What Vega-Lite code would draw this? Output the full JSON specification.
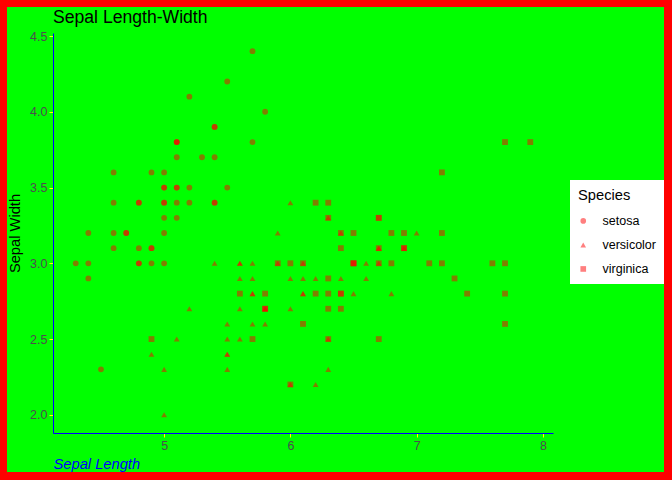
{
  "$schema": "https://vega.github.io/schema/vega-lite/v6.json",
  "width": 657,
  "height": 465,
  "autosize": {"type": "none"},
  "padding": {"left": 7, "top": 7, "right": 8, "bottom": 8},
  "background": "#FF0000",
  "config": {
    "view": {"fill": "#00FF00", "stroke": null},
    "font": "Liberation Sans"
  },
  "title": {
    "text": "Sepal Length-Width",
    "anchor": "start",
    "frame": "group",
    "dx": 46,
    "offset": 0,
    "baseline": "alphabetic",
    "dy": 34,
    "fontSize": 17.6,
    "fontWeight": "normal",
    "color": "#000000"
  },
  "data": {
    "values": [
      {"SL": 5.1, "SW": 3.5, "Species": "setosa"},
      {"SL": 4.9, "SW": 3.0, "Species": "setosa"},
      {"SL": 4.7, "SW": 3.2, "Species": "setosa"},
      {"SL": 4.6, "SW": 3.1, "Species": "setosa"},
      {"SL": 5.0, "SW": 3.6, "Species": "setosa"},
      {"SL": 5.4, "SW": 3.9, "Species": "setosa"},
      {"SL": 4.6, "SW": 3.4, "Species": "setosa"},
      {"SL": 5.0, "SW": 3.4, "Species": "setosa"},
      {"SL": 4.4, "SW": 2.9, "Species": "setosa"},
      {"SL": 4.9, "SW": 3.1, "Species": "setosa"},
      {"SL": 5.4, "SW": 3.7, "Species": "setosa"},
      {"SL": 4.8, "SW": 3.4, "Species": "setosa"},
      {"SL": 4.8, "SW": 3.0, "Species": "setosa"},
      {"SL": 4.3, "SW": 3.0, "Species": "setosa"},
      {"SL": 5.8, "SW": 4.0, "Species": "setosa"},
      {"SL": 5.7, "SW": 4.4, "Species": "setosa"},
      {"SL": 5.4, "SW": 3.9, "Species": "setosa"},
      {"SL": 5.1, "SW": 3.5, "Species": "setosa"},
      {"SL": 5.7, "SW": 3.8, "Species": "setosa"},
      {"SL": 5.1, "SW": 3.8, "Species": "setosa"},
      {"SL": 5.4, "SW": 3.4, "Species": "setosa"},
      {"SL": 5.1, "SW": 3.7, "Species": "setosa"},
      {"SL": 4.6, "SW": 3.6, "Species": "setosa"},
      {"SL": 5.1, "SW": 3.3, "Species": "setosa"},
      {"SL": 4.8, "SW": 3.4, "Species": "setosa"},
      {"SL": 5.0, "SW": 3.0, "Species": "setosa"},
      {"SL": 5.0, "SW": 3.4, "Species": "setosa"},
      {"SL": 5.2, "SW": 3.5, "Species": "setosa"},
      {"SL": 5.2, "SW": 3.4, "Species": "setosa"},
      {"SL": 4.7, "SW": 3.2, "Species": "setosa"},
      {"SL": 4.8, "SW": 3.1, "Species": "setosa"},
      {"SL": 5.4, "SW": 3.4, "Species": "setosa"},
      {"SL": 5.2, "SW": 4.1, "Species": "setosa"},
      {"SL": 5.5, "SW": 4.2, "Species": "setosa"},
      {"SL": 4.9, "SW": 3.1, "Species": "setosa"},
      {"SL": 5.0, "SW": 3.2, "Species": "setosa"},
      {"SL": 5.5, "SW": 3.5, "Species": "setosa"},
      {"SL": 4.9, "SW": 3.6, "Species": "setosa"},
      {"SL": 4.4, "SW": 3.0, "Species": "setosa"},
      {"SL": 5.1, "SW": 3.4, "Species": "setosa"},
      {"SL": 5.0, "SW": 3.5, "Species": "setosa"},
      {"SL": 4.5, "SW": 2.3, "Species": "setosa"},
      {"SL": 4.4, "SW": 3.2, "Species": "setosa"},
      {"SL": 5.0, "SW": 3.5, "Species": "setosa"},
      {"SL": 5.1, "SW": 3.8, "Species": "setosa"},
      {"SL": 4.8, "SW": 3.0, "Species": "setosa"},
      {"SL": 5.1, "SW": 3.8, "Species": "setosa"},
      {"SL": 4.6, "SW": 3.2, "Species": "setosa"},
      {"SL": 5.3, "SW": 3.7, "Species": "setosa"},
      {"SL": 5.0, "SW": 3.3, "Species": "setosa"},
      {"SL": 7.0, "SW": 3.2, "Species": "versicolor"},
      {"SL": 6.4, "SW": 3.2, "Species": "versicolor"},
      {"SL": 6.9, "SW": 3.1, "Species": "versicolor"},
      {"SL": 5.5, "SW": 2.3, "Species": "versicolor"},
      {"SL": 6.5, "SW": 2.8, "Species": "versicolor"},
      {"SL": 5.7, "SW": 2.8, "Species": "versicolor"},
      {"SL": 6.3, "SW": 3.3, "Species": "versicolor"},
      {"SL": 4.9, "SW": 2.4, "Species": "versicolor"},
      {"SL": 6.6, "SW": 2.9, "Species": "versicolor"},
      {"SL": 5.2, "SW": 2.7, "Species": "versicolor"},
      {"SL": 5.0, "SW": 2.0, "Species": "versicolor"},
      {"SL": 5.9, "SW": 3.0, "Species": "versicolor"},
      {"SL": 6.0, "SW": 2.2, "Species": "versicolor"},
      {"SL": 6.1, "SW": 2.9, "Species": "versicolor"},
      {"SL": 5.6, "SW": 2.9, "Species": "versicolor"},
      {"SL": 6.7, "SW": 3.1, "Species": "versicolor"},
      {"SL": 5.6, "SW": 3.0, "Species": "versicolor"},
      {"SL": 5.8, "SW": 2.7, "Species": "versicolor"},
      {"SL": 6.2, "SW": 2.2, "Species": "versicolor"},
      {"SL": 5.6, "SW": 2.5, "Species": "versicolor"},
      {"SL": 5.9, "SW": 3.2, "Species": "versicolor"},
      {"SL": 6.1, "SW": 2.8, "Species": "versicolor"},
      {"SL": 6.3, "SW": 2.5, "Species": "versicolor"},
      {"SL": 6.1, "SW": 2.8, "Species": "versicolor"},
      {"SL": 6.4, "SW": 2.9, "Species": "versicolor"},
      {"SL": 6.6, "SW": 3.0, "Species": "versicolor"},
      {"SL": 6.8, "SW": 2.8, "Species": "versicolor"},
      {"SL": 6.7, "SW": 3.0, "Species": "versicolor"},
      {"SL": 6.0, "SW": 2.9, "Species": "versicolor"},
      {"SL": 5.7, "SW": 2.6, "Species": "versicolor"},
      {"SL": 5.5, "SW": 2.4, "Species": "versicolor"},
      {"SL": 5.5, "SW": 2.4, "Species": "versicolor"},
      {"SL": 5.8, "SW": 2.7, "Species": "versicolor"},
      {"SL": 6.0, "SW": 2.7, "Species": "versicolor"},
      {"SL": 5.4, "SW": 3.0, "Species": "versicolor"},
      {"SL": 6.0, "SW": 3.4, "Species": "versicolor"},
      {"SL": 6.7, "SW": 3.1, "Species": "versicolor"},
      {"SL": 6.3, "SW": 2.3, "Species": "versicolor"},
      {"SL": 5.6, "SW": 3.0, "Species": "versicolor"},
      {"SL": 5.5, "SW": 2.5, "Species": "versicolor"},
      {"SL": 5.5, "SW": 2.6, "Species": "versicolor"},
      {"SL": 6.1, "SW": 3.0, "Species": "versicolor"},
      {"SL": 5.8, "SW": 2.6, "Species": "versicolor"},
      {"SL": 5.0, "SW": 2.3, "Species": "versicolor"},
      {"SL": 5.6, "SW": 2.7, "Species": "versicolor"},
      {"SL": 5.7, "SW": 3.0, "Species": "versicolor"},
      {"SL": 5.7, "SW": 2.9, "Species": "versicolor"},
      {"SL": 6.2, "SW": 2.9, "Species": "versicolor"},
      {"SL": 5.1, "SW": 2.5, "Species": "versicolor"},
      {"SL": 5.7, "SW": 2.8, "Species": "versicolor"},
      {"SL": 6.3, "SW": 3.3, "Species": "virginica"},
      {"SL": 5.8, "SW": 2.7, "Species": "virginica"},
      {"SL": 7.1, "SW": 3.0, "Species": "virginica"},
      {"SL": 6.3, "SW": 2.9, "Species": "virginica"},
      {"SL": 6.5, "SW": 3.0, "Species": "virginica"},
      {"SL": 7.6, "SW": 3.0, "Species": "virginica"},
      {"SL": 4.9, "SW": 2.5, "Species": "virginica"},
      {"SL": 7.3, "SW": 2.9, "Species": "virginica"},
      {"SL": 6.7, "SW": 2.5, "Species": "virginica"},
      {"SL": 7.2, "SW": 3.6, "Species": "virginica"},
      {"SL": 6.5, "SW": 3.2, "Species": "virginica"},
      {"SL": 6.4, "SW": 2.7, "Species": "virginica"},
      {"SL": 6.8, "SW": 3.0, "Species": "virginica"},
      {"SL": 5.7, "SW": 2.5, "Species": "virginica"},
      {"SL": 5.8, "SW": 2.8, "Species": "virginica"},
      {"SL": 6.4, "SW": 3.2, "Species": "virginica"},
      {"SL": 6.5, "SW": 3.0, "Species": "virginica"},
      {"SL": 7.7, "SW": 3.8, "Species": "virginica"},
      {"SL": 7.7, "SW": 2.6, "Species": "virginica"},
      {"SL": 6.0, "SW": 2.2, "Species": "virginica"},
      {"SL": 6.9, "SW": 3.2, "Species": "virginica"},
      {"SL": 5.6, "SW": 2.8, "Species": "virginica"},
      {"SL": 7.7, "SW": 2.8, "Species": "virginica"},
      {"SL": 6.3, "SW": 2.7, "Species": "virginica"},
      {"SL": 6.7, "SW": 3.3, "Species": "virginica"},
      {"SL": 7.2, "SW": 3.2, "Species": "virginica"},
      {"SL": 6.2, "SW": 2.8, "Species": "virginica"},
      {"SL": 6.1, "SW": 3.0, "Species": "virginica"},
      {"SL": 6.4, "SW": 2.8, "Species": "virginica"},
      {"SL": 7.2, "SW": 3.0, "Species": "virginica"},
      {"SL": 7.4, "SW": 2.8, "Species": "virginica"},
      {"SL": 7.9, "SW": 3.8, "Species": "virginica"},
      {"SL": 6.4, "SW": 2.8, "Species": "virginica"},
      {"SL": 6.3, "SW": 2.8, "Species": "virginica"},
      {"SL": 6.1, "SW": 2.6, "Species": "virginica"},
      {"SL": 7.7, "SW": 3.0, "Species": "virginica"},
      {"SL": 6.3, "SW": 3.4, "Species": "virginica"},
      {"SL": 6.4, "SW": 3.1, "Species": "virginica"},
      {"SL": 6.0, "SW": 3.0, "Species": "virginica"},
      {"SL": 6.9, "SW": 3.1, "Species": "virginica"},
      {"SL": 6.7, "SW": 3.1, "Species": "virginica"},
      {"SL": 6.9, "SW": 3.1, "Species": "virginica"},
      {"SL": 5.8, "SW": 2.7, "Species": "virginica"},
      {"SL": 6.8, "SW": 3.2, "Species": "virginica"},
      {"SL": 6.7, "SW": 3.3, "Species": "virginica"},
      {"SL": 6.7, "SW": 3.0, "Species": "virginica"},
      {"SL": 6.3, "SW": 2.5, "Species": "virginica"},
      {"SL": 6.5, "SW": 3.0, "Species": "virginica"},
      {"SL": 6.2, "SW": 3.4, "Species": "virginica"},
      {"SL": 5.9, "SW": 3.0, "Species": "virginica"}
    ]
  },
  "mark": {"type": "point", "filled": true, "color": "#FF0000", "opacity": 0.5, "size": 34},
  "encoding": {
    "x": {
      "field": "SL",
      "type": "quantitative",
      "scale": {"domain": [4.12, 8.08], "range": [46, 546], "nice": false, "zero": false},
      "axis": {
        "offset": -39,
        "values": [5, 6, 7, 8],
        "format": "d",
        "grid": false,
        "domainColor": "#0000FF",
        "domainWidth": 1,
        "tickColor": "#FFFF00",
        "tickSize": 4,
        "tickWidth": 1,
        "labelColor": "#4D4D4D",
        "labelFontSize": 12.5,
        "labelPadding": 2,
        "title": "Sepal Length",
        "titleColor": "#0000FF",
        "titleFontStyle": "italic",
        "titleFontWeight": "normal",
        "titleFontSize": 14.7,
        "titleAnchor": "start",
        "titlePadding": 5
      }
    },
    "y": {
      "field": "SW",
      "type": "quantitative",
      "scale": {"domain": [1.88, 4.52], "range": [426, 26], "nice": false, "zero": false},
      "axis": {
        "offset": -46,
        "values": [2, 2.5, 3, 3.5, 4, 4.5],
        "format": ".1f",
        "grid": false,
        "domainColor": "#0000FF",
        "domainWidth": 1,
        "tickColor": "#FFFF00",
        "tickSize": 4,
        "tickWidth": 1,
        "labelColor": "#4D4D4D",
        "labelFontSize": 12.5,
        "labelPadding": 2,
        "title": "Sepal Width",
        "titleColor": "#000000",
        "titleFontWeight": "normal",
        "titleFontSize": 14.7,
        "titlePadding": 7
      }
    },
    "shape": {
      "field": "Species",
      "type": "nominal",
      "scale": {"domain": ["setosa", "versicolor", "virginica"], "range": ["circle", "triangle-up", "square"]},
      "legend": {
        "orient": "none",
        "legendX": 563,
        "legendY": 173,
        "fillColor": "#FFFFFF",
        "padding": 8,
        "title": "Species",
        "titleFontSize": 14.7,
        "titleFontWeight": "normal",
        "titleColor": "#000000",
        "titlePadding": 12,
        "labelFontSize": 12.5,
        "labelColor": "#000000",
        "labelOffset": 13,
        "symbolOffset": -1,
        "symbolSize": 32,
        "symbolFillColor": "#FF0000",
        "symbolOpacity": 0.5,
        "symbolStrokeWidth": 0,
        "rowPadding": 11
      }
    }
  }
}
